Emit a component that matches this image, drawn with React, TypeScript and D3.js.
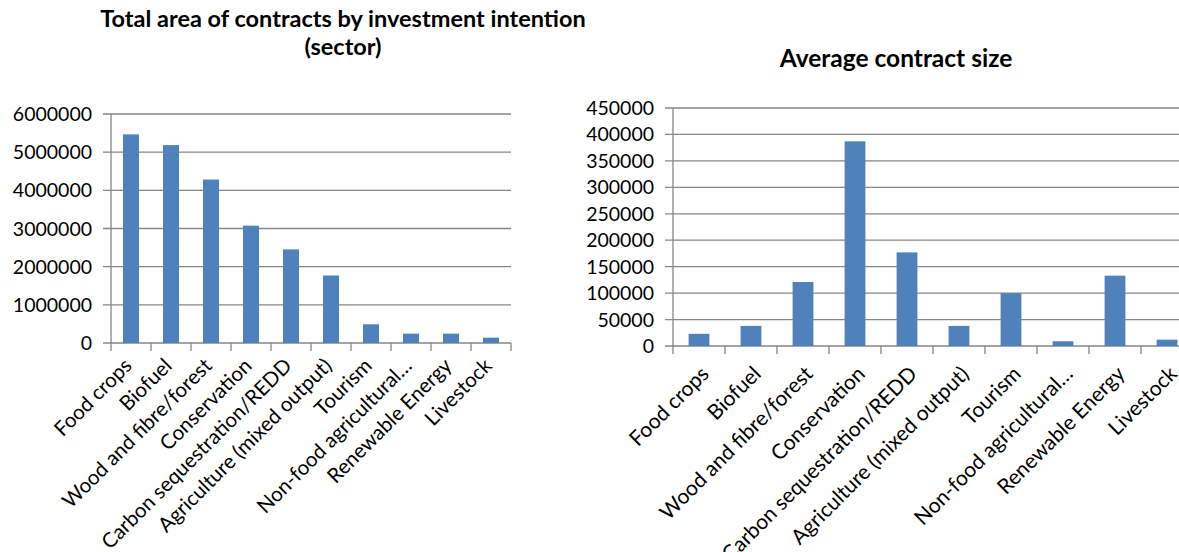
import React from "react";
import * as d3 from "d3";

const categories = [
  "Food crops",
  "Biofuel",
  "Wood and fibre/forest",
  "Conservation",
  "Carbon sequestration/REDD",
  "Agriculture (mixed output)",
  "Tourism",
  "Non-food agricultural…",
  "Renewable Energy",
  "Livestock",
];

const totalArea = [5466000, 5185000, 4283000, 3074000, 2453000, 1769000, 490000, 245000, 245000, 140000];
const avgSize = [23000, 38000, 121000, 387000, 177000, 38000, 100000, 9000, 133000, 12000];

const totalTicks = [0, 1000000, 2000000, 3000000, 4000000, 5000000, 6000000];
const avgTicks = [0, 50000, 100000, 150000, 200000, 250000, 300000, 350000, 400000, 450000];

const FONT = "Lato, 'Open Sans', sans-serif";
const BAR = "#4F81BD";
const GRID = "#868686";

type PanelProps = {
  values: number[];
  ticks: number[];
  max: number;
  x0: number;
  x1: number;
  yTop: number;
  yBottom: number;
  labelSize: number;
  labelDx: number;
  labelDy: number;
  tickSize: number;
  title: string[];
  titleX: number;
  titleY: number;
  titleSize: number;
};

function Panel(p: PanelProps) {
  const x = d3.scaleBand<string>().domain(categories).range([p.x0, p.x1]).paddingInner(0).paddingOuter(0);
  const y = d3.scaleLinear().domain([0, p.max]).range([p.yBottom, p.yTop]);
  const bw = x.bandwidth();
  const barW = bw / 2.5;
  return (
    <g>
      {p.title.map((t, i) => (
        <text
          key={i}
          x={p.titleX}
          y={p.titleY + i * 28}
          textAnchor="middle"
          fontFamily={FONT}
          fontWeight="bold"
          fontSize={p.titleSize}
          fill="#000"
        >
          {t}
        </text>
      ))}
      {p.ticks.map((t) => (
        <g key={t}>
          <line x1={p.x0 - 8} x2={p.x1} y1={y(t)} y2={y(t)} stroke={GRID} strokeWidth={1.3} />
          <text
            x={p.x0 - 19}
            y={y(t)}
            dy="0.36em"
            textAnchor="end"
            fontFamily={FONT}
            fontSize={p.tickSize}
            fill="#000"
          >
            {t}
          </text>
        </g>
      ))}
      <line x1={p.x0} x2={p.x0} y1={p.yTop} y2={p.yBottom + 8} stroke={GRID} strokeWidth={1.3} />
      {categories.map((c, i) => (
        <line
          key={"t" + i}
          x1={(x(c) as number) + bw}
          x2={(x(c) as number) + bw}
          y1={p.yBottom}
          y2={p.yBottom + 8}
          stroke={GRID}
          strokeWidth={1.3}
        />
      ))}
      {categories.map((c, i) => (
        <rect
          key={"b" + i}
          x={(x(c) as number) + (bw - barW) / 2}
          y={y(p.values[i])}
          width={barW}
          height={p.yBottom - y(p.values[i])}
          fill={BAR}
        />
      ))}
      {categories.map((c, i) => {
        const cx = (x(c) as number) + bw / 2;
        return (
          <text
            key={"l" + i}
            transform={`translate(${cx + p.labelDx},${p.yBottom + p.labelDy}) rotate(-45)`}
            textAnchor="end"
            dy="0.35em"
            fontFamily={FONT}
            fontSize={p.labelSize}
            fill="#000"
          >
            {c}
          </text>
        );
      })}
    </g>
  );
}

export default function App() {
  return (
    <svg
      width={1179}
      height={552}
      style={{ position: "absolute", left: 0, top: 0, background: "#fff" }}
    >
      <rect width={1179} height={552} fill="#fff" />
      <Panel
        values={totalArea}
        ticks={totalTicks}
        max={6000000}
        x0={111}
        x1={511}
        yTop={114}
        yBottom={343}
        labelSize={20.5}
        labelDx={-3}
        labelDy={19}
        tickSize={19.5}
        title={["Total area of contracts by investment intention", "(sector)"]}
        titleX={343}
        titleY={27}
        titleSize={23.5}
      />
      <Panel
        values={avgSize}
        ticks={avgTicks}
        max={450000}
        x0={673}
        x1={1193}
        yTop={108}
        yBottom={346}
        labelSize={21}
        labelDx={6}
        labelDy={24}
        tickSize={19.5}
        title={["Average contract size"]}
        titleX={896}
        titleY={67}
        titleSize={24.5}
      />
    </svg>
  );
}
